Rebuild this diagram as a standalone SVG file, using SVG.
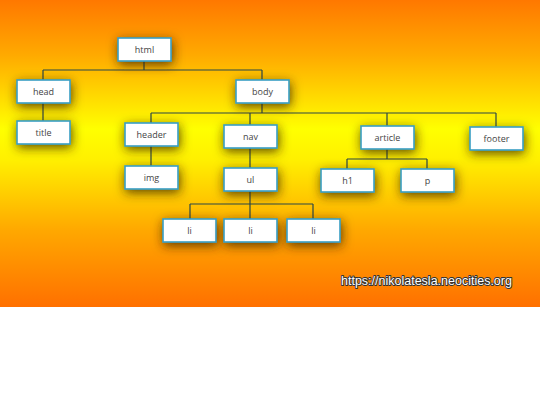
<svg xmlns="http://www.w3.org/2000/svg" width="540" height="405" viewBox="0 0 540 405">
<defs>
<linearGradient id="bg" x1="0" y1="0" x2="0" y2="1">
<stop offset="0" stop-color="#ff7800"/>
<stop offset="0.18" stop-color="#ffaa00"/>
<stop offset="0.42" stop-color="#ffff00"/>
<stop offset="0.52" stop-color="#fff000"/>
<stop offset="0.75" stop-color="#ffa800"/>
<stop offset="1" stop-color="#ff7000"/>
</linearGradient>
<filter id="sh" x="-50%" y="-80%" width="200%" height="280%">
<feDropShadow dx="1" dy="3" stdDeviation="5.5" flood-color="#3a2400" flood-opacity="0.8"/>
</filter>
</defs>
<style>
.box{fill:#fff;stroke:#3a9ec4;stroke-width:1.6;filter:url(#sh)}
.lbl{font-family:"Open Sans",sans-serif;font-size:9px;fill:#444;text-anchor:middle}
.con{fill:none;stroke:#2a4848;stroke-width:1.2}
.wm{font-family:"Liberation Sans",sans-serif;font-size:12.5px;fill:#fff;stroke:#333;stroke-width:1.8;paint-order:stroke;stroke-linejoin:round}
</style>
<rect x="0" y="0" width="540" height="405" fill="#fff"/>
<rect x="0" y="0" width="540" height="307" fill="url(#bg)"/>
<g id="connectors" class="con">
<path d="M144,61V70M43,70H262M43,70V80M262,70V80"/>
<path d="M43,103V121"/>
<path d="M262,103V113M151,113H496M151,113V123M250,113V125M387,113V126M496,113V127"/>
<path d="M151,146V166"/>
<path d="M250,148V168"/>
<path d="M387,149V159M347,159H427M347,159V169M427,159V169"/>
<path d="M250,191V204M190,204H313M190,204V219M250,204V219M313,204V219"/>
</g>
<g id="html"><rect class="box" x="118" y="38" width="53" height="23"/><text class="lbl" x="144.5" y="52.5">html</text></g>
<g id="head"><rect class="box" x="17" y="80" width="53" height="23"/><text class="lbl" x="43.5" y="94.5">head</text></g>
<g id="body"><rect class="box" x="236" y="80" width="53" height="23"/><text class="lbl" x="262.5" y="94.5">body</text></g>
<g id="title"><rect class="box" x="17" y="121" width="53" height="23"/><text class="lbl" x="43.5" y="135.5">title</text></g>
<g id="header"><rect class="box" x="125" y="123" width="53" height="23"/><text class="lbl" x="151.5" y="137.5">header</text></g>
<g id="nav"><rect class="box" x="224" y="125" width="53" height="23"/><text class="lbl" x="250.5" y="139.5">nav</text></g>
<g id="article"><rect class="box" x="361" y="126" width="53" height="23"/><text class="lbl" x="387.5" y="140.5">article</text></g>
<g id="footer"><rect class="box" x="470" y="127" width="53" height="23"/><text class="lbl" x="496.5" y="141.5">footer</text></g>
<g id="img"><rect class="box" x="125" y="166" width="53" height="23"/><text class="lbl" x="151.5" y="180.5">img</text></g>
<g id="ul"><rect class="box" x="224" y="168" width="53" height="23"/><text class="lbl" x="250.5" y="182.5">ul</text></g>
<g id="h1"><rect class="box" x="321" y="169" width="53" height="23"/><text class="lbl" x="347.5" y="183.5">h1</text></g>
<g id="p"><rect class="box" x="401" y="169" width="53" height="23"/><text class="lbl" x="427.5" y="183.5">p</text></g>
<g id="li1"><rect class="box" x="163" y="219" width="53" height="23"/><text class="lbl" x="189.5" y="233.5">li</text></g>
<g id="li2"><rect class="box" x="224" y="219" width="53" height="23"/><text class="lbl" x="250.5" y="233.5">li</text></g>
<g id="li3"><rect class="box" x="287" y="219" width="53" height="23"/><text class="lbl" x="313.5" y="233.5">li</text></g>
<text class="wm" x="341" y="285">https://nikolatesla.neocities.org</text>
</svg>
